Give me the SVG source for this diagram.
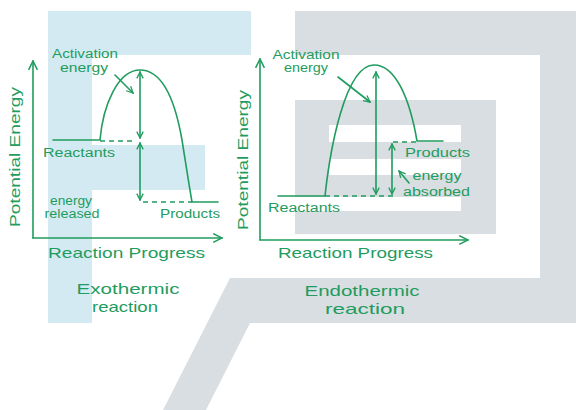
<svg xmlns="http://www.w3.org/2000/svg" width="576" height="410" viewBox="0 0 576 410">
<style>
.ln{fill:none;stroke:#1f9c5e;stroke-width:1.6;stroke-linecap:round;stroke-linejoin:round}
.ds{fill:none;stroke:#1f9c5e;stroke-width:1.4;stroke-dasharray:5 4}
.t{font-family:"Liberation Sans","DejaVu Sans",sans-serif;fill:#1f9c5e}
.s{font-size:12px}
.m{font-size:15px}
.bl{fill:#d4eaf3}
.gr{fill:#d9dee2}
</style>
<defs>
<marker id="ah" viewBox="0 0 10 10" refX="9" refY="5" markerWidth="8" markerHeight="8" markerUnits="userSpaceOnUse" orient="auto-start-reverse">
<path d="M1,1 L9,5 L1,9" fill="none" stroke="#1f9c5e" stroke-width="1.6"/>
</marker>
<marker id="ax" viewBox="0 0 10 10" refX="9" refY="5" markerWidth="11" markerHeight="11" markerUnits="userSpaceOnUse" orient="auto">
<path d="M1,1 L9,5 L1,9" fill="none" stroke="#1f9c5e" stroke-width="1.4"/>
</marker>
</defs>
<g id="background">
<path class="bl" d="M48,11 H251 V55 H92 V145 H205 V190 H92 V323 H48 Z"/>
<path class="gr" d="M295,11 H576 V323 H250 L206,410 H163 L230,278 H540 V55 H295 Z"/>
<path class="gr" d="M295,100 H496 V234 H295 Z M329,125 V142 H461 V125 Z M329,159 V175 H461 V159 Z M295,197 V211 H461 V197 Z" fill-rule="evenodd"/>
</g>
<g id="exothermic">
<g id="exo-axes">
<path class="ln" d="M33,238 V61" marker-end="url(#ax)"/>
<path class="ln" d="M33,238 H222" marker-end="url(#ax)"/>
</g>
<g id="exo-curve">
<path class="ln" d="M53,140 H100 C103,105 118,70 140,70 C162,70 175,100 182,140 C186,165 189,185 192,202 H218"/>
<path class="ds" d="M100,141 H136"/>
<path class="ds" d="M143,202 H192"/>
</g>
<g id="exo-arrows">
<path class="ln" d="M140,72 V138" marker-start="url(#ah)" marker-end="url(#ah)"/>
<path class="ln" d="M140,143 V200" marker-start="url(#ah)" marker-end="url(#ah)"/>
<path class="ln" d="M115,75 L133,93" marker-end="url(#ah)"/>
</g>
<g id="exo-labels">
<text class="t s" x="85" y="58" text-anchor="middle" textLength="66" lengthAdjust="spacingAndGlyphs">Activation</text>
<text class="t s" x="84" y="72" text-anchor="middle" textLength="48" lengthAdjust="spacingAndGlyphs">energy</text>
<text class="t s" x="43" y="157" textLength="72" lengthAdjust="spacingAndGlyphs">Reactants</text>
<text class="t s" x="71" y="205" text-anchor="middle" textLength="42" lengthAdjust="spacingAndGlyphs">energy</text>
<text class="t s" x="72" y="218" text-anchor="middle" textLength="55" lengthAdjust="spacingAndGlyphs">released</text>
<text class="t s" x="160" y="218" textLength="60" lengthAdjust="spacingAndGlyphs">Products</text>
<text class="t m" x="20" y="157" text-anchor="middle" transform="rotate(-90 20 157)" textLength="140" lengthAdjust="spacingAndGlyphs">Potential Energy</text>
<text class="t m" x="48" y="258" textLength="157" lengthAdjust="spacingAndGlyphs">Reaction Progress</text>
<text class="t m" x="128" y="294" text-anchor="middle" textLength="103" lengthAdjust="spacingAndGlyphs">Exothermic</text>
<text class="t m" x="125" y="312" text-anchor="middle" textLength="66" lengthAdjust="spacingAndGlyphs">reaction</text>
</g>
</g>
<g id="endothermic">
<g id="endo-axes">
<path class="ln" d="M260,240 V59" marker-end="url(#ax)"/>
<path class="ln" d="M260,240 H468" marker-end="url(#ax)"/>
</g>
<g id="endo-curve">
<path class="ln" d="M278,196 H325 C330,150 345,65 374,65 C396,65 410,100 417,141 H443"/>
<path class="ds" d="M325,196 H395"/>
<path class="ds" d="M393,142 H417"/>
</g>
<g id="endo-arrows">
<path class="ln" d="M376,72 V194" marker-start="url(#ah)" marker-end="url(#ah)"/>
<path class="ln" d="M392,144 V194" marker-start="url(#ah)" marker-end="url(#ah)"/>
<path class="ln" d="M338,77 L370,102" marker-end="url(#ah)"/>
<path class="ln" d="M409,183 L399,171" marker-end="url(#ah)"/>
</g>
<g id="endo-labels">
<text class="t s" x="306" y="59" text-anchor="middle" textLength="67" lengthAdjust="spacingAndGlyphs">Activation</text>
<text class="t s" x="306" y="72" text-anchor="middle" textLength="44" lengthAdjust="spacingAndGlyphs">energy</text>
<text class="t s" x="405" y="157" textLength="65" lengthAdjust="spacingAndGlyphs">Products</text>
<text class="t s" x="437" y="180" text-anchor="middle" textLength="49" lengthAdjust="spacingAndGlyphs">energy</text>
<text class="t s" x="403" y="196" textLength="67" lengthAdjust="spacingAndGlyphs">absorbed</text>
<text class="t s" x="268" y="212" textLength="72" lengthAdjust="spacingAndGlyphs">Reactants</text>
<text class="t m" x="248" y="160" text-anchor="middle" transform="rotate(-90 248 160)" textLength="140" lengthAdjust="spacingAndGlyphs">Potential Energy</text>
<text class="t m" x="278" y="258" textLength="155" lengthAdjust="spacingAndGlyphs">Reaction Progress</text>
<text class="t m" x="362" y="296" text-anchor="middle" textLength="115" lengthAdjust="spacingAndGlyphs">Endothermic</text>
<text class="t m" x="365" y="314" text-anchor="middle" textLength="80" lengthAdjust="spacingAndGlyphs">reaction</text>
</g>
</g>
</svg>
